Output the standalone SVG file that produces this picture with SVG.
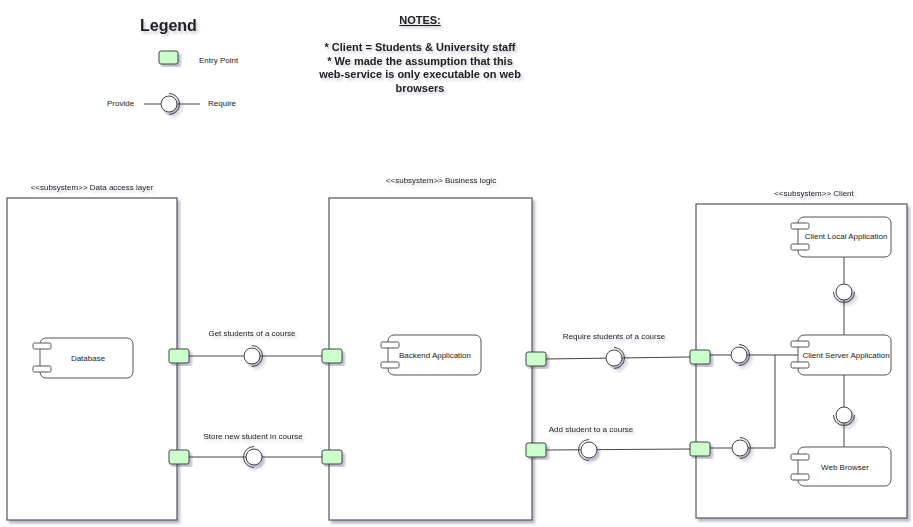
<svg xmlns="http://www.w3.org/2000/svg" width="913" height="527" viewBox="0 0 913 527">
<defs>
<filter id="sh" x="-10%" y="-10%" width="130%" height="130%">
<feDropShadow dx="2.5" dy="3" stdDeviation="1.3" flood-color="#3c3c6e" flood-opacity="0.35"/>
</filter>
<filter id="tsh" x="-10%" y="-30%" width="130%" height="180%">
<feDropShadow dx="2" dy="2.5" stdDeviation="1.2" flood-color="#3c3c6e" flood-opacity="0.25"/>
</filter>
</defs>
<style>
text{font-family:"Liberation Sans",Arial,sans-serif;fill:#222;}
.s{font-size:8px;}
.n{font-size:11px;font-weight:bold;text-anchor:middle;}
.c{text-anchor:middle;}
.box{fill:#fff;stroke:#555;stroke-width:1.2;filter:url(#sh);}
.comp{fill:#fff;stroke:#555;stroke-width:1;}
.ep{fill:#ccffcc;stroke:#444;stroke-width:1;filter:url(#sh);}
.ln{fill:none;stroke:#444;stroke-width:1;}
.ifc{fill:#fff;stroke:#444;stroke-width:1;}
.arc{fill:none;stroke:#444;stroke-width:1;}
.lbl{filter:url(#tsh);}
</style>

<g id="legend">
<text x="140" y="31" style="font-size:16px;font-weight:bold;" class="lbl">Legend</text>
<rect class="ep" x="159" y="51" width="19" height="13" rx="2"/>
<text class="s" x="199" y="63">Entry Point</text>
<text class="s" x="107" y="106">Provide</text>
<line class="ln" x1="144" y1="104" x2="200" y2="104"/>
<g filter="url(#sh)"><circle class="ifc" cx="169" cy="104" r="8"/><path class="arc" d="M169,93.5 A10.5,10.5 0 0 1 169,114.5"/></g>
<text class="s" x="208" y="106">Require</text>
</g>

<g id="notes" class="lbl">
<text class="n" x="420" y="24" text-decoration="underline">NOTES:</text>
<text class="n" x="420" y="51">* Client = Students &amp; University staff</text>
<text class="n" x="420" y="65">* We made the assumption that this</text>
<text class="n" x="420" y="78">web-service is only executable on web</text>
<text class="n" x="420" y="92">browsers</text>
</g>

<g id="data-access-layer">
<text class="s c lbl" x="92" y="190">&lt;&lt;subsystem&gt;&gt; Data access layer</text>
<rect class="box" x="7" y="198" width="170" height="322"/>
</g>
<g id="business-logic">
<text class="s c lbl" x="441" y="183">&lt;&lt;subsystem&gt;&gt; Business logic</text>
<rect class="box" x="329" y="198" width="203" height="322"/>
</g>
<g id="client">
<text class="s c lbl" x="814" y="196">&lt;&lt;subsystem&gt;&gt; Client</text>
<rect class="box" x="696" y="204" width="211" height="314"/>
</g>

<g id="database">
<rect class="comp" x="40" y="338" width="93" height="40" rx="6"/>
<rect class="comp" x="33" y="343" width="18" height="6" rx="1.5"/>
<rect class="comp" x="33" y="366" width="18" height="6" rx="1.5"/>
<text class="s c" x="88" y="361">Database</text>
</g>
<g id="backend-application">
<rect class="comp" x="388" y="335" width="93" height="40" rx="6"/>
<rect class="comp" x="381" y="342" width="18" height="6" rx="1.5"/>
<rect class="comp" x="381" y="362" width="18" height="6" rx="1.5"/>
<text class="s c" x="435" y="358">Backend Application</text>
</g>
<g id="client-local-application">
<rect class="comp" x="798" y="217" width="93" height="40" rx="6"/>
<rect class="comp" x="791" y="223" width="18" height="6" rx="1.5"/>
<rect class="comp" x="791" y="244" width="18" height="6" rx="1.5"/>
<text class="s c" x="846" y="239">Client Local Application</text>
</g>
<g id="client-server-application">
<rect class="comp" x="798" y="335" width="93" height="40" rx="6"/>
<rect class="comp" x="791" y="341" width="18" height="6" rx="1.5"/>
<rect class="comp" x="791" y="362" width="18" height="6" rx="1.5"/>
<text class="s c" x="846" y="358">Client Server Application</text>
</g>
<g id="web-browser">
<rect class="comp" x="798" y="447" width="93" height="39" rx="6"/>
<rect class="comp" x="791" y="454" width="18" height="6" rx="1.5"/>
<rect class="comp" x="791" y="474" width="18" height="6" rx="1.5"/>
<text class="s c" x="845" y="470">Web Browser</text>
</g>

<g id="connectors">
<line class="ln" x1="189" y1="356" x2="322" y2="356"/>
<line class="ln" x1="189" y1="457" x2="322" y2="457"/>
<line class="ln" x1="546" y1="359" x2="690" y2="357"/>
<line class="ln" x1="546" y1="450" x2="690" y2="449"/>
<polyline class="ln" points="710,355 798,355"/>
<polyline class="ln" points="710,448 775,448 775,355"/>
<line class="ln" x1="844" y1="257" x2="844" y2="335"/>
<line class="ln" x1="844" y1="375" x2="844" y2="447"/>
</g>

<g id="entry-points">
<rect class="ep" x="169" y="349" width="20" height="14" rx="2"/>
<rect class="ep" x="169" y="450" width="20" height="14" rx="2"/>
<rect class="ep" x="322" y="349" width="20" height="14" rx="2"/>
<rect class="ep" x="322" y="450" width="20" height="14" rx="2"/>
<rect class="ep" x="526" y="352" width="20" height="14" rx="2"/>
<rect class="ep" x="526" y="443" width="20" height="14" rx="2"/>
<rect class="ep" x="690" y="350" width="20" height="14" rx="2"/>
<rect class="ep" x="690" y="442" width="20" height="14" rx="2"/>
</g>

<g id="interfaces">
<g id="if-get-students" filter="url(#sh)"><circle class="ifc" cx="252" cy="356" r="8"/><path class="arc" d="M252,345.5 A10.5,10.5 0 0 1 252,366.5"/></g>
<g id="if-store-student" filter="url(#sh)"><circle class="ifc" cx="254" cy="457" r="8"/><path class="arc" d="M254,467.5 A10.5,10.5 0 0 1 254,446.5"/></g>
<g id="if-require-students" filter="url(#sh)"><circle class="ifc" cx="614" cy="358" r="8"/><path class="arc" d="M614,347.5 A10.5,10.5 0 0 1 614,368.5"/></g>
<g id="if-add-student" filter="url(#sh)"><circle class="ifc" cx="589" cy="450" r="8"/><path class="arc" d="M589,460.5 A10.5,10.5 0 0 1 589,439.5"/></g>
<g id="if-client-1" filter="url(#sh)"><circle class="ifc" cx="739" cy="355" r="8"/><path class="arc" d="M739,344.5 A10.5,10.5 0 0 1 739,365.5"/></g>
<g id="if-client-2" filter="url(#sh)"><circle class="ifc" cx="740" cy="448" r="8"/><path class="arc" d="M740,437.5 A10.5,10.5 0 0 1 740,458.5"/></g>
<g id="if-local" filter="url(#sh)"><circle class="ifc" cx="844" cy="292" r="8"/><path class="arc" d="M833.5,292 A10.5,10.5 0 0 0 854.5,292"/></g>
<g id="if-browser" filter="url(#sh)"><circle class="ifc" cx="844" cy="415" r="8"/><path class="arc" d="M833.5,415 A10.5,10.5 0 0 0 854.5,415"/></g>
</g>

<g id="labels" class="lbl">
<text class="s c" x="252" y="336">Get students of a course</text>
<text class="s c" x="253" y="439">Store new student in course</text>
<text class="s c" x="614" y="339">Require students of a course</text>
<text class="s c" x="591" y="432">Add student to a course</text>
</g>
</svg>
